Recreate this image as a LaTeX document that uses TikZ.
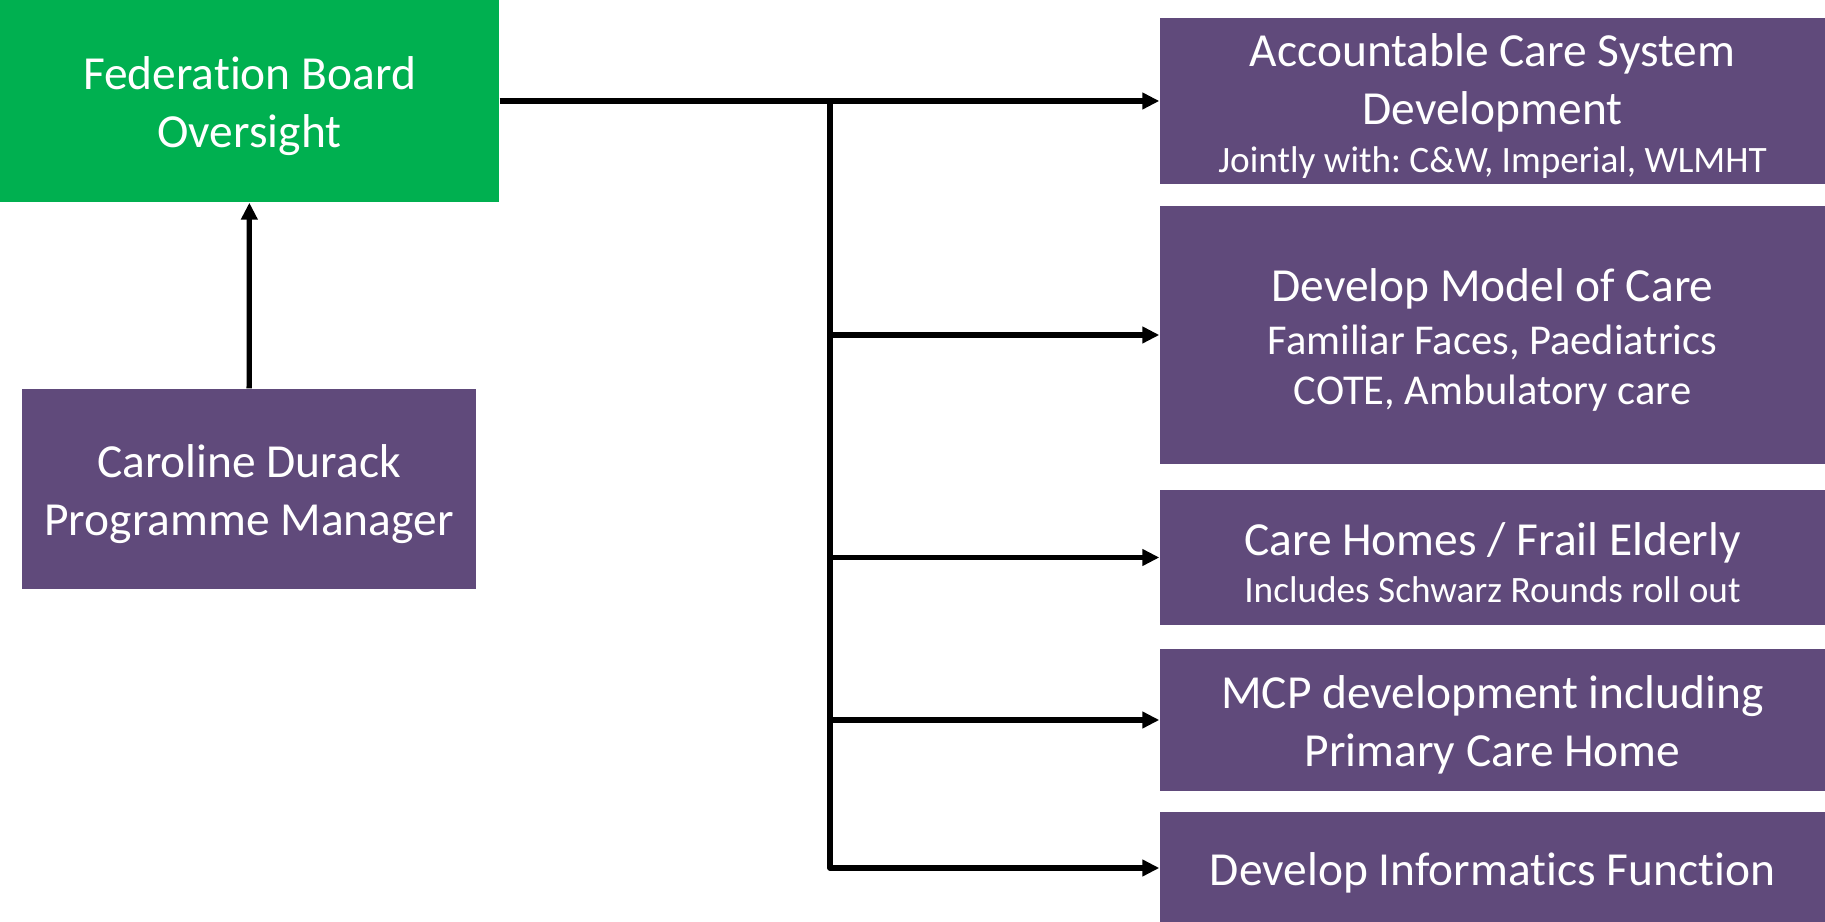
\documentclass[tikz,border=0pt]{standalone}
\usepackage{fontspec}
\setmainfont{Carlito}[Ligatures=NoCommon]
\frenchspacing
\usetikzlibrary{arrows.meta}
\definecolor{boardgreen}{HTML}{00B050}
\definecolor{workpurple}{HTML}{604A7B}
\newcommand{\subline}[1]{{\fontsize{10.6}{13}\selectfont #1}}
\newcommand{\midline}[1]{{\fontsize{12.1}{14.5}\selectfont #1}}

\begin{document}
\begin{tikzpicture}[
  box/.style={fill=workpurple, inner sep=0pt},
  boxtext/.style={text=white, align=center, inner sep=0pt, yshift=-0.05cm,
    font=\fontsize{13.5}{16.5}\selectfont},
  link/.style={line width=1.5pt, line join=round, -{Triangle[length=1.7mm,width=1.6mm]}}
]
  \useasboundingbox (0,0) rectangle (18.25,-9.22);
  \node[box, fill=boardgreen, minimum width=4.99cm, minimum height=2.02cm,
    label={[boxtext]center:{Federation Board\\Oversight}}] (board) at (2.495,-1.01) {};
  \node[box, minimum width=4.54cm, minimum height=2cm,
    label={[boxtext]center:{Caroline Durack\\Programme Manager}}] (manager) at (2.49,-4.89) {};
  \node[box, minimum width=6.65cm, minimum height=1.66cm,
    label={[boxtext]center:{Accountable Care System\\Development\\[-2.8pt]\subline{Jointly with: C\&W, Imperial, WLMHT}}}] (acs) at (14.925,-1.01) {};
  \node[box, minimum width=6.65cm, minimum height=2.58cm,
    label={[boxtext]center:{Develop Model of Care\\[-1.3pt]\midline{Familiar Faces, Paediatrics}\\[-2.3pt]\midline{COTE, Ambulatory care}}}] (model) at (14.925,-3.35) {};
  \node[box, minimum width=6.65cm, minimum height=1.35cm,
    label={[boxtext]center:{Care Homes / Frail Elderly\\[-3.3pt]\subline{Includes Schwarz Rounds roll out}}}] (homes) at (14.925,-5.575) {};
  \node[box, minimum width=6.65cm, minimum height=1.42cm,
    label={[boxtext]center:{MCP development including\\Primary Care Home}}] (mcp) at (14.925,-7.20) {};
  \node[box, minimum width=6.65cm, minimum height=1.12cm,
    label={[boxtext]center:{Develop Informatics Function}}] (info) at (14.925,-8.68) {};
  \coordinate (split) at (8.30,-1.01);
  \coordinate (foot) at (8.30,-8.68);

  \draw[link] (manager) -- (board);
  \draw[link] (board.east) -- (acs.west);
  \foreach \n in {model,homes,mcp}
    \draw[link] (split |- \n.west) -- (\n.west);
  \draw[link] (split) -- (foot) -- (info.west);
\end{tikzpicture}
\end{document}
